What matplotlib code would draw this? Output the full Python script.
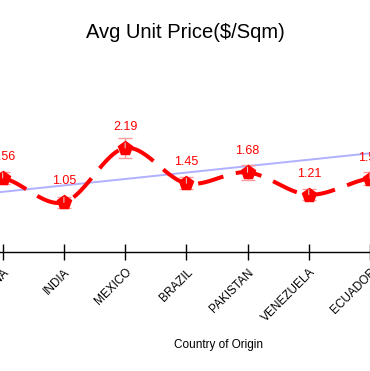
import numpy as np
import matplotlib
matplotlib.use("Agg")
import matplotlib.pyplot as plt

plt.rcParams['font.family'] = ['Liberation Sans', 'DejaVu Sans']

countries = ['CHINA', 'INDIA', 'MEXICO', 'BRAZIL', 'PAKISTAN', 'VENEZUELA', 'ECUADOR']
avg_price = [1.56, 1.05, 2.19, 1.45, 1.68, 1.21, 1.55]
price_err = [0.13, 0.11, 0.21, 0.13, 0.16, 0.11, 0.13]
trend_intercept = 1.27
trend_slope = 0.135


def catmull_rom(x, y, n=30):
    # smooth curve through the points, for drawing the spline line
    x = np.asarray(x, float)
    y = np.asarray(y, float)
    px = np.concatenate([[2 * x[0] - x[1]], x, [2 * x[-1] - x[-2]]])
    py = np.concatenate([[y[0]], y, [y[-1]]])
    xs, ys = [], []
    t = np.linspace(0, 1, n)
    for i in range(1, len(px) - 2):
        for p, out in ((px, xs), (py, ys)):
            p0, p1, p2, p3 = p[i - 1], p[i], p[i + 1], p[i + 2]
            out.extend(0.5 * ((2 * p1) + (-p0 + p2) * t
                              + (2 * p0 - 5 * p1 + 4 * p2 - p3) * t ** 2
                              + (-p0 + 3 * p1 - 3 * p2 + p3) * t ** 3))
    return np.array(xs), np.array(ys)


fig = plt.figure(figsize=(3.7, 3.71), dpi=100)
ax = fig.add_axes([0, 1 - 252.3 / 371, 1, (252.3 - 61.9) / 371])

idx = np.arange(len(countries))

# trend line
tx = np.array([-1, len(countries)])
ax.plot(tx, trend_intercept + trend_slope * tx, color='#b0b0ff', lw=1.4, zorder=1)

# smooth dashed line
sx, sy = catmull_rom(idx, avg_price)
line, = ax.plot(sx, sy, color='red', lw=2.9, zorder=2)
line.set_dashes((6.5, 3.2))

ax.errorbar(idx, avg_price, yerr=price_err, fmt='none', ecolor='#ff9a9a',
            elinewidth=1, capsize=4.7, capthick=1, zorder=3)
ax.plot(idx, avg_price, linestyle='none', marker='p', markersize=10,
        color='red', zorder=4)

for i, v in enumerate(avg_price):
    ax.annotate(f'{v:.2f}', xy=(i, v), xytext=(0, 15), textcoords='offset points',
                ha='center', va='center', color='red', fontsize=9,
                arrowprops=dict(arrowstyle='-', color='#dddddd', lw=0.7,
                                shrinkA=5, shrinkB=0), zorder=5)

ax.set_xlim(-0.044, 5.953)
ax.set_ylim(0, 4)
ax.set_xticks(idx)
ax.set_xticklabels(countries, rotation=45, ha='right', va='top',
                   rotation_mode='anchor', fontsize=8.5)
ax.tick_params(axis='x', direction='inout', length=12, width=1, pad=4)
ax.get_yaxis().set_visible(False)
for s in ['left', 'right', 'top']:
    ax.spines[s].set_visible(False)
ax.spines['bottom'].set_linewidth(1)
ax.set_facecolor('none')

fig.text(185 / 370, 1 - 32 / 371, 'Avg Unit Price($/Sqm)', ha='center', va='center',
         fontsize=14.5)
fig.text(218 / 370, 1 - 345 / 371, 'Country of Origin', ha='center', va='center',
         fontsize=8.5)

fig.savefig('out.png', dpi=100)
